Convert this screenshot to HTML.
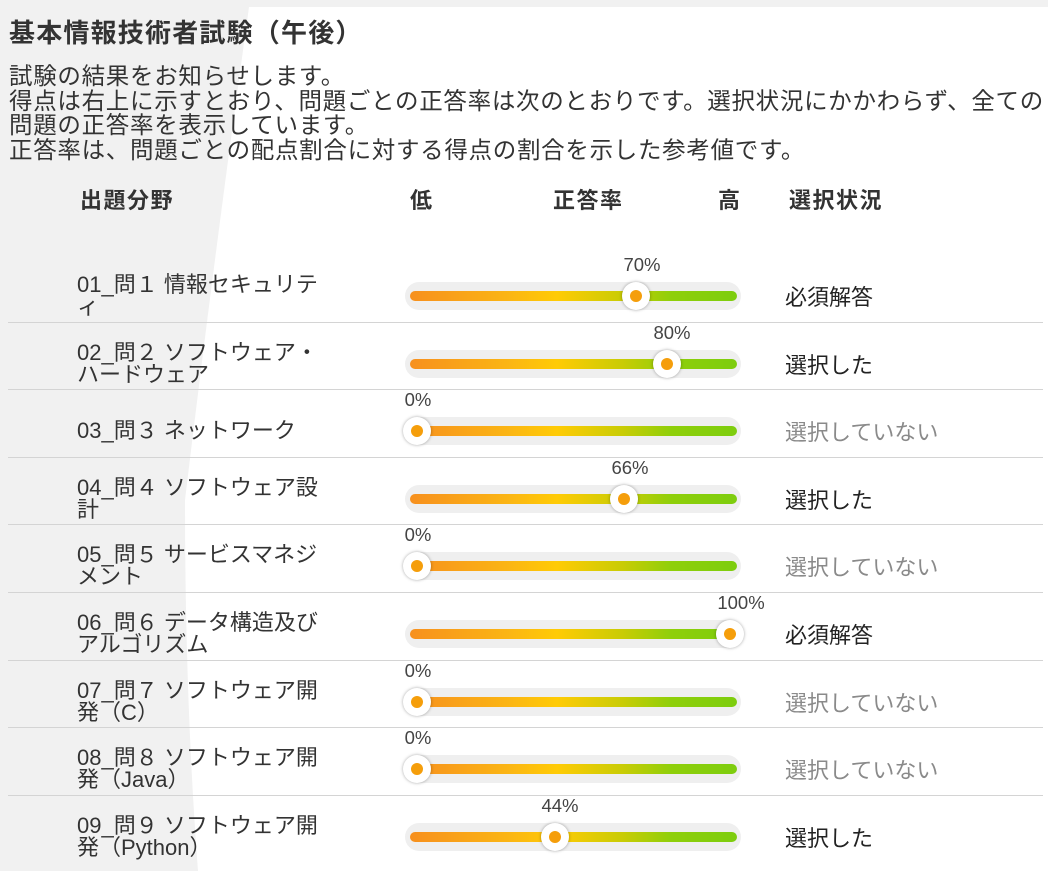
<!DOCTYPE html>
<html><head><meta charset="utf-8"><style>
body{margin:0;width:1048px;height:871px;overflow:hidden;background:#fff;font-family:"Liberation Sans","Noto Sans CJK JP",sans-serif;color:#333;position:relative}
.bg{position:absolute;left:0;top:0}
.a{position:absolute;white-space:nowrap}
.t{font-size:26px;font-weight:bold;left:9px;top:13px;color:#333;letter-spacing:1.2px}
.p{left:9px;top:64px;font-size:23.5px;line-height:24.5px;color:#333;letter-spacing:0.7px}
.h{font-size:22px;font-weight:bold;top:183px;letter-spacing:1.5px}
.row{position:absolute;left:0;width:1048px;height:67.6px}
.sep{position:absolute;left:8px;width:1035px;bottom:0;height:1px;background:#d4d4d4}
.lbl{position:absolute;left:77px;top:10px;height:62px;display:flex;align-items:center;font-size:22px;line-height:22px;color:#333}
.track{position:absolute;left:405px;top:27px;width:336px;height:28px;border-radius:14px;background:#efefef}
.bar{position:absolute;left:410px;top:36px;width:327px;height:10px;border-radius:5px;background:linear-gradient(90deg,#f7901e 0%,#fbb514 30%,#ffcb05 45%,#c9cc05 65%,#8fcf0a 80%,#7dcd0e 100%)}
.knob{position:absolute;top:27px;width:28px;height:28px;margin-left:-14px;border-radius:50%;background:#fff;box-shadow:0 0 3px rgba(0,0,0,.35)}
.knob:after{content:"";position:absolute;left:8px;top:8px;width:12px;height:12px;border-radius:50%;background:#f59e0b}
.pct{position:absolute;top:-1px;width:80px;margin-left:-40px;text-align:center;font-size:18.5px;color:#444}
.st{position:absolute;left:785px;top:25px;font-size:22px;color:#222}
.st.g{color:#8a8a8a}
</style></head><body>
<svg class="bg" width="1048" height="871"><path d="M0 0 L250 0 Q215 250 185 500 Q185 700 198 871 L0 871 Z" fill="#f1f1f1"/><rect x="0" y="0" width="1048" height="7" fill="#f1f1f1"/></svg>
<div class="a t">基本情報技術者試験（午後）</div>
<div class="a p">試験の結果をお知らせします。<br>得点は右上に示すとおり、問題ごとの正答率は次のとおりです。選択状況にかかわらず、全ての<br>問題の正答率を表示しています。<br>正答率は、問題ごとの配点割合に対する得点の割合を示した参考値です。</div>
<div class="a h" style="left:80px">出題分野</div>
<div class="a h" style="left:410px">低</div>
<div class="a h" style="left:553px">正答率</div>
<div class="a h" style="left:718px">高</div>
<div class="a h" style="left:789px">選択状況</div>

<div class="row" style="top:255px"><div class="lbl">01_問１ 情報セキュリテ<br>ィ</div><div class="track"></div><div class="bar"></div><div class="pct" style="left:642px">70%</div><div class="knob" style="left:636px"></div><div class="st">必須解答</div><div class="sep"></div></div>
<div class="row" style="top:322.6px"><div class="lbl">02_問２ ソフトウェア・<br>ハードウェア</div><div class="track"></div><div class="bar"></div><div class="pct" style="left:672px">80%</div><div class="knob" style="left:667px"></div><div class="st">選択した</div><div class="sep"></div></div>
<div class="row" style="top:390.2px"><div class="lbl">03_問３ ネットワーク</div><div class="track"></div><div class="bar"></div><div class="pct" style="left:418px">0%</div><div class="knob" style="left:417px"></div><div class="st g">選択していない</div><div class="sep"></div></div>
<div class="row" style="top:457.8px"><div class="lbl">04_問４ ソフトウェア設<br>計</div><div class="track"></div><div class="bar"></div><div class="pct" style="left:630px">66%</div><div class="knob" style="left:624px"></div><div class="st">選択した</div><div class="sep"></div></div>
<div class="row" style="top:525.4px"><div class="lbl">05_問５ サービスマネジ<br>メント</div><div class="track"></div><div class="bar"></div><div class="pct" style="left:418px">0%</div><div class="knob" style="left:417px"></div><div class="st g">選択していない</div><div class="sep"></div></div>
<div class="row" style="top:593px"><div class="lbl">06_問６ データ構造及び<br>アルゴリズム</div><div class="track"></div><div class="bar"></div><div class="pct" style="left:741px">100%</div><div class="knob" style="left:730px"></div><div class="st">必須解答</div><div class="sep"></div></div>
<div class="row" style="top:660.6px"><div class="lbl">07_問７ ソフトウェア開<br>発（C）</div><div class="track"></div><div class="bar"></div><div class="pct" style="left:418px">0%</div><div class="knob" style="left:417px"></div><div class="st g">選択していない</div><div class="sep"></div></div>
<div class="row" style="top:728.2px"><div class="lbl">08_問８ ソフトウェア開<br>発（Java）</div><div class="track"></div><div class="bar"></div><div class="pct" style="left:418px">0%</div><div class="knob" style="left:417px"></div><div class="st g">選択していない</div><div class="sep"></div></div>
<div class="row" style="top:795.8px"><div class="lbl">09_問９ ソフトウェア開<br>発（Python）</div><div class="track"></div><div class="bar"></div><div class="pct" style="left:560px">44%</div><div class="knob" style="left:555px"></div><div class="st">選択した</div></div>
</body></html>
